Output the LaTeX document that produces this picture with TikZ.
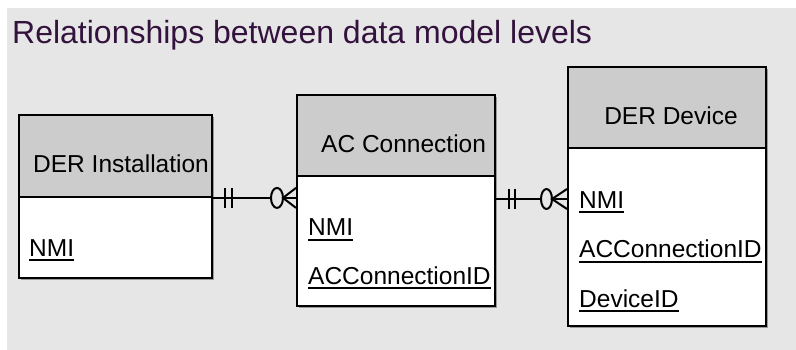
\documentclass[tikz,border=0pt]{standalone}
\usepackage{fontspec}
\setmainfont{Liberation Sans}
\usetikzlibrary{shadows}
\definecolor{bgc}{HTML}{E6E6E6}
\definecolor{hdc}{HTML}{CCCCCC}
\definecolor{ttl}{HTML}{33123D}
\newcommand\keyul[1]{\setbox0\hbox{#1}\rlap{\rule[-5pt]{\wd0}{2pt}}\box0}
\begin{document}
\begin{tikzpicture}[x=1pt,y=-1pt,
  entity/.style={draw=black, line width=1.9pt, fill=white, anchor=north west, inner sep=0pt,
     drop shadow={shadow xshift=1.8pt, shadow yshift=-1.8pt, fill=black!40, opacity=1}},
  header/.style={draw=black, line width=1.9pt, fill=hdc, anchor=north west, inner sep=0pt},
  lbl/.style={anchor=base west, inner sep=0pt, font=\fontsize{24.5}{29}\selectfont, text=black},
  ttlstyle/.style={anchor=base west, inner sep=0pt, font=\fontsize{32}{38}\selectfont, text=ttl},
  conn/.style={draw=black, line width=2pt}]
\useasboundingbox (0,0) rectangle (796,350);
\fill[bgc] (7,8) rectangle (796,350);
\node[ttlstyle] (title) at (12,44) {Relationships between data model levels};

% DER Installation
\node[entity, minimum width=193pt, minimum height=163pt] (inst) at (18,114) {};
\node[header, minimum width=193pt, minimum height=82pt] (insth) at (inst.north west) {};
\node[lbl] (instt) at (33,173) {DER Installation};
\node[lbl] (instk) at (29,256) {\keyul{NMI}};

% AC Connection
\node[entity, minimum width=198pt, minimum height=211pt] (ac) at (296,94) {};
\node[header, minimum width=198pt, minimum height=81pt] (ach) at (ac.north west) {};
\node[lbl] (act) at (321,153) {AC Connection};
\node[lbl] (ack1) at (308,236) {\keyul{NMI}};
\node[lbl] (ack2) at (308,284) {\keyul{ACConnectionID}};

% DER Device
\node[entity, minimum width=198pt, minimum height=259pt] (dev) at (567,66) {};
\node[header, minimum width=198pt, minimum height=81pt] (devh) at (dev.north west) {};
\node[lbl, anchor=base] (devt) at (671,125) {DER Device};
\node[lbl] (devk1) at (579,208) {\keyul{NMI}};
\node[lbl] (devk2) at (579,258) {\keyul{ACConnectionID}};
\node[lbl] (devk3) at (579,307) {\keyul{DeviceID}};

% connector 1
\coordinate (c1a) at (insth.south east);
\coordinate (c1b) at (ac.west |- c1a);
\draw[conn] (c1a) -- ([xshift=-25pt]c1b);
\draw[conn] ([xshift=12pt,yshift=10pt]c1a) -- ([xshift=12pt,yshift=-10pt]c1a);
\draw[conn] ([xshift=19pt,yshift=10pt]c1a) -- ([xshift=19pt,yshift=-10pt]c1a);
\draw[conn] ([xshift=-19pt]c1b) ellipse [x radius=6pt, y radius=10pt];
\draw[conn] ([yshift=10pt]c1b) -- ([xshift=-13pt]c1b) -- ([yshift=-10pt]c1b);
\draw[conn] ([xshift=-13pt]c1b) -- (c1b);

% connector 2
\coordinate (c2a) at (ac.east |- 0,199);
\coordinate (c2b) at (dev.west |- c2a);
\draw[conn] (c2a) -- ([xshift=-26pt]c2b);
\draw[conn] ([xshift=13pt,yshift=10pt]c2a) -- ([xshift=13pt,yshift=-10pt]c2a);
\draw[conn] ([xshift=19pt,yshift=10pt]c2a) -- ([xshift=19pt,yshift=-10pt]c2a);
\draw[conn] ([xshift=-20.5pt]c2b) ellipse [x radius=5.5pt, y radius=10pt];
\draw[conn] ([yshift=10pt]c2b) -- ([xshift=-15pt]c2b) -- ([yshift=-10pt]c2b);
\draw[conn] ([xshift=-15pt]c2b) -- (c2b);
\end{tikzpicture}
\end{document}
